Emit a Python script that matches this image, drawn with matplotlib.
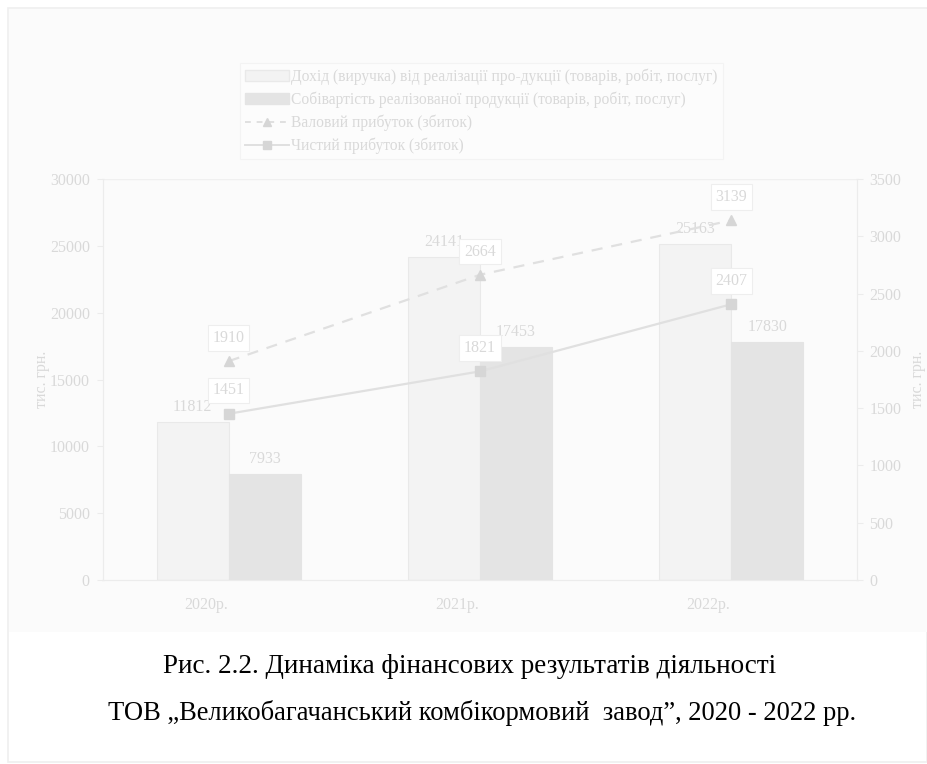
import matplotlib
matplotlib.use("Agg")
import matplotlib.pyplot as plt
import matplotlib.patches as mpatches
import matplotlib.transforms as mtransforms
from matplotlib.lines import Line2D
import numpy as np

plt.rcParams['font.family'] = ['Liberation Serif', 'DejaVu Serif']

# Data
years = ["2020р.", "2021р.", "2022р."]
revenue = [11812, 24141, 25163]
cost = [7933, 17453, 17830]
gross_profit = [1910, 2664, 3139]
net_profit = [1451, 1821, 2407]

left_ticks = [0, 5000, 10000, 15000, 20000, 25000, 30000]
right_ticks = [0, 500, 1000, 1500, 2000, 2500, 3000, 3500]

legend_labels = [
    "Дохід (виручка) від реалізації про-дукції (товарів, робіт, послуг)",
    "Собівартість реалізованої продукції (товарів, робіт, послуг)",
    "Валовий прибуток (збиток)",
    "Чистий прибуток (збиток)",
]
caption_lines = [
    "Рис. 2.2. Динаміка фінансових результатів діяльності",
    "ТОВ „Великобагачанський комбікормовий  завод”, 2020 - 2022 рр.",
]
unit = "тис. грн."

# Pale palette
TXT = "#d9d9d9"
AX = "#ececec"
REV_FACE, REV_EDGE = "#f3f3f3", "#e9e9e9"
COST_FACE = "#e4e4e4"
LINE_C = "#e0e0e0"
MARK_C = "#d6d6d6"

W, H = 927, 764
fig = plt.figure(figsize=(W / 100, H / 100), dpi=100)
fig.patch.set_facecolor("white")

# outer frame and chart background
fig.patches.append(mpatches.Rectangle((8 / W, 1 - 762 / H), (W - 8) / W, 754 / H,
                                      transform=fig.transFigure, facecolor="white",
                                      edgecolor="#efefef", lw=1.2, zorder=-2))
fig.patches.append(mpatches.Rectangle((9 / W, 1 - 632 / H), (W - 9) / W, 623 / H,
                                      transform=fig.transFigure, facecolor="#fbfbfb",
                                      edgecolor="none", zorder=-1))

ax = fig.add_axes([103 / W, 1 - 580 / H, (857 - 103) / W, (580 - 179) / H])
ax.set_facecolor("none")
ax2 = ax.twinx()

x = np.arange(len(years))
bw = 0.287

b1 = ax.bar(x - bw / 2, revenue, bw, color=REV_FACE, edgecolor=REV_EDGE, lw=0.8, zorder=2)
b2 = ax.bar(x + bw / 2, cost, bw, color=COST_FACE, edgecolor=COST_FACE, lw=0.8, zorder=2)

for bars, vals in ((b1, revenue), (b2, cost)):
    for r, v in zip(bars, vals):
        ax.annotate(f"{v}", (r.get_x() + r.get_width() / 2, v), xytext=(0, 5),
                    textcoords="offset points", ha="center", va="bottom",
                    fontsize=11.5, color=TXT, zorder=5)

ax.set_xlim(-0.5, len(years) - 0.5)
ax.set_ylim(0, 30000)
ax.set_yticks(left_ticks)
ax.set_xticks(x)
ax.set_xticklabels(years)
ax.tick_params(axis="y", colors=AX, labelcolor=TXT, labelsize=11.5, length=4, pad=5.5)
ax.tick_params(axis="x", length=0, labelcolor=TXT, labelsize=11.5, pad=12)
shift = mtransforms.ScaledTranslation(-23 / 100, 0, fig.dpi_scale_trans)
for lab in ax.get_xticklabels():
    lab.set_transform(lab.get_transform() + shift)
ax.yaxis.grid(False)
ax.axhline(30000, color="#f0f0f0", lw=1, zorder=1)
ax.spines["top"].set_visible(False)
for s in ("left", "bottom", "right"):
    ax.spines[s].set_color(AX)

ax2.plot(x, gross_profit, ls=(0, (5, 4)), color=LINE_C, lw=1.6, marker="^",
         ms=7, mfc=MARK_C, mec=MARK_C, zorder=4)
ax2.plot(x, net_profit, ls="-", color=LINE_C, lw=1.6, marker="s",
         ms=7, mfc=MARK_C, mec=MARK_C, zorder=4)
ax2.set_ylim(0, 3500)
ax2.set_yticks(right_ticks)
ax2.tick_params(axis="y", colors=AX, labelcolor=TXT, labelsize=11.5, length=4, pad=5)
ax2.spines["top"].set_visible(False)
for s in ("left", "bottom", "right"):
    ax2.spines[s].set_color(AX)

box = dict(boxstyle="square,pad=0.3", fc="white", ec="#eeeeee", lw=0.8)
for vals in (gross_profit, net_profit):
    for xi, v in zip(x, vals):
        ax2.annotate(f"{v}", (xi, v), xytext=(0, 11), textcoords="offset points",
                     ha="center", va="bottom", fontsize=11.5, color=TXT,
                     bbox=box, zorder=6)

ax.set_ylabel(unit, color=TXT, fontsize=11.5, labelpad=0)
ax2.set_ylabel(unit, color=TXT, fontsize=11.5, labelpad=6, rotation=90)

handles = [
    mpatches.Patch(fc=REV_FACE, ec=REV_EDGE),
    mpatches.Patch(fc=COST_FACE, ec=COST_FACE),
    Line2D([], [], ls=(0, (3, 3)), color=LINE_C, lw=1.4, marker="^", ms=6,
           mfc=MARK_C, mec=MARK_C),
    Line2D([], [], ls="-", color=LINE_C, lw=1.4, marker="s", ms=6,
           mfc=MARK_C, mec=MARK_C),
]
leg = fig.legend(handles, legend_labels, loc="upper left",
                 bbox_to_anchor=(240 / W, 1 - 63 / H), borderaxespad=0,
                 fontsize=11.2, labelcolor=TXT, frameon=True, fancybox=False,
                 edgecolor="#f2f2f2", facecolor="#fdfdfd", handlelength=2.8,
                 handletextpad=0.15, labelspacing=0.42, borderpad=0.35)
leg.get_frame().set_linewidth(0.8)

fig.text(470 / W, 1 - 673 / H, caption_lines[0], ha="center", va="baseline",
         fontsize=19.5, color="black")
fig.text(482 / W, 1 - 720 / H, caption_lines[1], ha="center", va="baseline",
         fontsize=19.1, color="black")

fig.savefig("out.png", dpi=100, facecolor="white")
